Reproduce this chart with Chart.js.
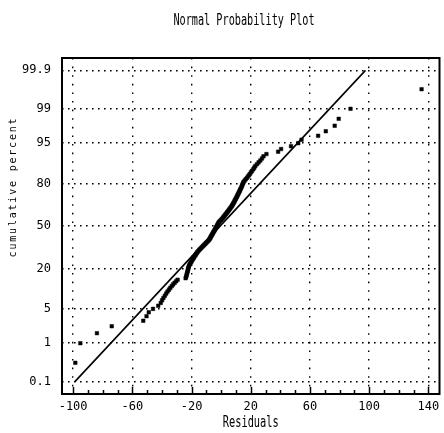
<!DOCTYPE html>
<html>
<head>
<meta charset="utf-8">
<script src="https://cdn.jsdelivr.net/npm/chart.js@4.4.1/dist/chart.umd.min.js"></script>
<style>
html,body{margin:0;padding:0;background:#fff;}
canvas{display:block;}
</style>
</head>
<body>
<canvas id="c" width="444" height="433"></canvas>
<script>
// ---- data ----
const residuals = [
-98.5,-95.1,-83.9,-73.9,-52.6,-50.4,-48.9,-46.0,-42.5,-40.8,
-39.9,-39.0,-38.0,-37.1,-36.2,-35.2,-34.3,-33.3,-32.4,-31.4,
-30.4,-29.4,-24.0,-23.6,-23.4,-23.2,-22.9,-22.7,-22.5,-22.3,
-22.1,-21.9,-21.6,-21.2,-20.8,-20.3,-19.9,-19.5,-19.0,-18.6,
-18.2,-17.7,-17.3,-16.9,-16.4,-16.0,-15.4,-14.8,-14.2,-13.6,
-13.0,-12.4,-11.8,-11.2,-10.6,-10.0,-9.4,-8.8,-8.2,-7.9,
-7.5,-7.2,-6.9,-6.6,-6.2,-5.9,-5.6,-5.3,-4.9,-4.6,
-4.3,-4.0,-3.6,-3.3,-3.0,-2.7,-2.4,-2.1,-1.8,-1.5,
-1.0,-0.4,0.1,0.7,1.1,1.6,2.0,2.5,2.9,3.4,
3.8,4.3,4.7,5.2,5.6,6.1,6.5,7.0,7.4,7.7,
8.1,8.4,8.8,9.1,9.4,9.8,10.1,10.5,10.8,11.1,
11.5,11.8,12.2,12.5,12.8,13.2,13.5,13.9,14.2,14.5,
14.9,15.2,15.9,16.6,17.4,18.1,18.8,19.5,20.2,20.9,
21.7,22.4,23.1,24.2,25.3,26.5,27.6,28.6,30.6,38.5,
40.5,47.2,52.1,54.3,65.5,70.7,76.7,79.4,87.4,135.4
];
const cumPercent = [
0.33,1,1.67,2.33,3,3.67,4.33,5,5.67,6.33,
7,7.67,8.33,9,9.67,10.33,11,11.67,12.33,13,
13.67,14.33,15,15.67,16.33,17,17.67,18.33,19,19.67,
20.33,21,21.67,22.33,23,23.67,24.33,25,25.67,26.33,
27,27.67,28.33,29,29.67,30.33,31,31.67,32.33,33,
33.67,34.33,35,35.67,36.33,37,37.67,38.33,39,39.67,
40.33,41,41.67,42.33,43,43.67,44.33,45,45.67,46.33,
47,47.67,48.33,49,49.67,50.33,51,51.67,52.33,53,
53.67,54.33,55,55.67,56.33,57,57.67,58.33,59,59.67,
60.33,61,61.67,62.33,63,63.67,64.33,65,65.67,66.33,
67,67.67,68.33,69,69.67,70.33,71,71.67,72.33,73,
73.67,74.33,75,75.67,76.33,77,77.67,78.33,79,79.67,
80.33,81,81.67,82.33,83,83.67,84.33,85,85.67,86.33,
87,87.67,88.33,89,89.67,90.33,91,91.67,92.33,93,
93.67,94.33,95,95.67,96.33,97,97.67,98.33,99,99.67
];
const fitResiduals = [-98.8, 97.5];
const fitPercent = [0.1, 99.9];
const yTickPercents = [0.1, 1, 5, 20, 50, 80, 95, 99, 99.9];
const yTickLabels = ['0.1','1','5','20','50','80','95','99','99.9'];
const xTickValues = [-100, -60, -20, 20, 60, 100, 140];
const xTickLabels = ['-100','-60','-20','20','60','100','140'];
const xMinorStep = 10;
const titleText = 'Normal Probability Plot';
const xTitleText = 'Residuals';
const yTitleText = 'cumulative percent';

// probit (inverse normal CDF) for the probability axis
function probit(p){
  const a=[-3.969683028665376e+01,2.209460984245205e+02,-2.759285104469687e+02,1.383577518672690e+02,-3.066479806614716e+01,2.506628277459239e+00];
  const b=[-5.447609879822406e+01,1.615858368580409e+02,-1.556989798598866e+02,6.680131188771972e+01,-1.328068155288572e+01];
  const c=[-7.784894002430293e-03,-3.223964580411365e-01,-2.400758277161838e+00,-2.549732539343734e+00,4.374664141464968e+00,2.938163982698783e+00];
  const d=[7.784695709041462e-03,3.224671290700398e-01,2.445134137142996e+00,3.754408661907416e+00];
  const pl=0.02425, ph=1-pl; let q,r;
  if(p<pl){q=Math.sqrt(-2*Math.log(p));return (((((c[0]*q+c[1])*q+c[2])*q+c[3])*q+c[4])*q+c[5])/((((d[0]*q+d[1])*q+d[2])*q+d[3])*q+1);}
  if(p>ph){q=Math.sqrt(-2*Math.log(1-p));return -(((((c[0]*q+c[1])*q+c[2])*q+c[3])*q+c[4])*q+c[5])/((((d[0]*q+d[1])*q+d[2])*q+d[3])*q+1);}
  q=p-0.5;r=q*q;return (((((a[0]*r+a[1])*r+a[2])*r+a[3])*r+a[4])*r+a[5])*q/(((((b[0]*r+b[1])*r+b[2])*r+b[3])*r+b[4])*r+1);
}

const pointData = residuals.map((x,i)=>({x:x, y:probit(cumPercent[i]/100)}));
const lineData = fitResiduals.map((x,i)=>({x:x, y:probit(fitPercent[i]/100)}));

const FONT = "'DejaVu Sans Mono', 'Liberation Mono', monospace";

const decor = {
  id:'decor',
  afterDatasetsDraw(chart){
    const ctx = chart.ctx, a = chart.chartArea, xs = chart.scales.x;
    ctx.save();
    // frame
    ctx.strokeStyle = '#000'; ctx.lineWidth = 2;
    ctx.strokeRect(a.left, a.top, a.right - a.left, a.bottom - a.top);
    // inward ticks on x axis
    ctx.lineWidth = 1.5;
    for (let v = xTickValues[0]; v <= xTickValues[xTickValues.length-1]; v += xMinorStep){
      const px = Math.round(xs.getPixelForValue(v)) + 0.5;
      const major = xTickValues.includes(v);
      ctx.beginPath(); ctx.moveTo(px, a.bottom); ctx.lineTo(px, a.bottom - (major ? 7 : 4)); ctx.stroke();
    }
    ctx.fillStyle = '#000';
    // title
    ctx.save();
    ctx.font = '15px ' + FONT; ctx.textAlign = 'center'; ctx.textBaseline = 'middle';
    ctx.translate(244, 21); ctx.scale(0.68, 1.1);
    ctx.fillText(titleText, 0, 0);
    ctx.restore();
    // x title
    ctx.save();
    ctx.font = '15px ' + FONT; ctx.textAlign = 'center'; ctx.textBaseline = 'middle';
    ctx.translate((a.left + a.right)/2, 423); ctx.scale(0.69, 1.05);
    ctx.fillText(xTitleText, 0, 0);
    ctx.restore();
    // y title
    ctx.save();
    ctx.font = '10px ' + FONT; ctx.textAlign = 'center'; ctx.textBaseline = 'middle';
    try { ctx.letterSpacing = '1.8px'; } catch(e) {}
    ctx.translate(13, 187); ctx.rotate(-Math.PI/2);
    ctx.fillText(yTitleText, 0, 0);
    ctx.restore();
    ctx.restore();
  }
};

new Chart(document.getElementById('c'), {
  data: {
    datasets: [
      { type:'scatter', data: pointData, pointStyle:'rect', pointRadius:2.5,
        backgroundColor:'#000', borderColor:'#000', borderWidth:0.5, order:2 },
      { type:'line', data: lineData, borderColor:'#000', borderWidth:1.6,
        pointRadius:0, fill:false, tension:0, order:1 }
    ]
  },
  plugins:[decor],
  options: {
    responsive:false, animation:false, devicePixelRatio:1,
    layout:{ padding:{ left:0, right:2, top:58, bottom:0 } },
    plugins:{ legend:{display:false}, tooltip:{enabled:false}, title:{display:false} },
    scales:{
      x:{ type:'linear', min:-107.5, max:147.5,
        afterBuildTicks: s => { s.ticks = xTickValues.map(v=>({value:v})); },
        afterFit: s => { s.height = 39; s.paddingLeft = 0; s.paddingRight = 0; },
        ticks:{ callback:(v,i)=>xTickLabels[i], color:'#000', padding:6, maxRotation:0, autoSkip:false,
          font:{ family:FONT, size:12 } },
        grid:{ color:'#000', lineWidth:1.4, drawTicks:false },
        border:{ display:false, dash:[1.6,7] }
      },
      y:{ type:'linear', min:-3.335, max:3.335,
        afterBuildTicks: s => { s.ticks = yTickPercents.map(p=>({value:probit(p/100)})); },
        afterFit: s => { s.width = 62; s.paddingTop = 0; s.paddingBottom = 0; },
        ticks:{ callback:(v,i)=>yTickLabels[i], color:'#000', padding:11, autoSkip:false,
          font:{ family:FONT, size:12 } },
        grid:{ color:'#000', lineWidth:1.4, drawTicks:false },
        border:{ display:false, dash:[1.6,4.4] }
      }
    }
  }
});
</script>
</body>
</html>
